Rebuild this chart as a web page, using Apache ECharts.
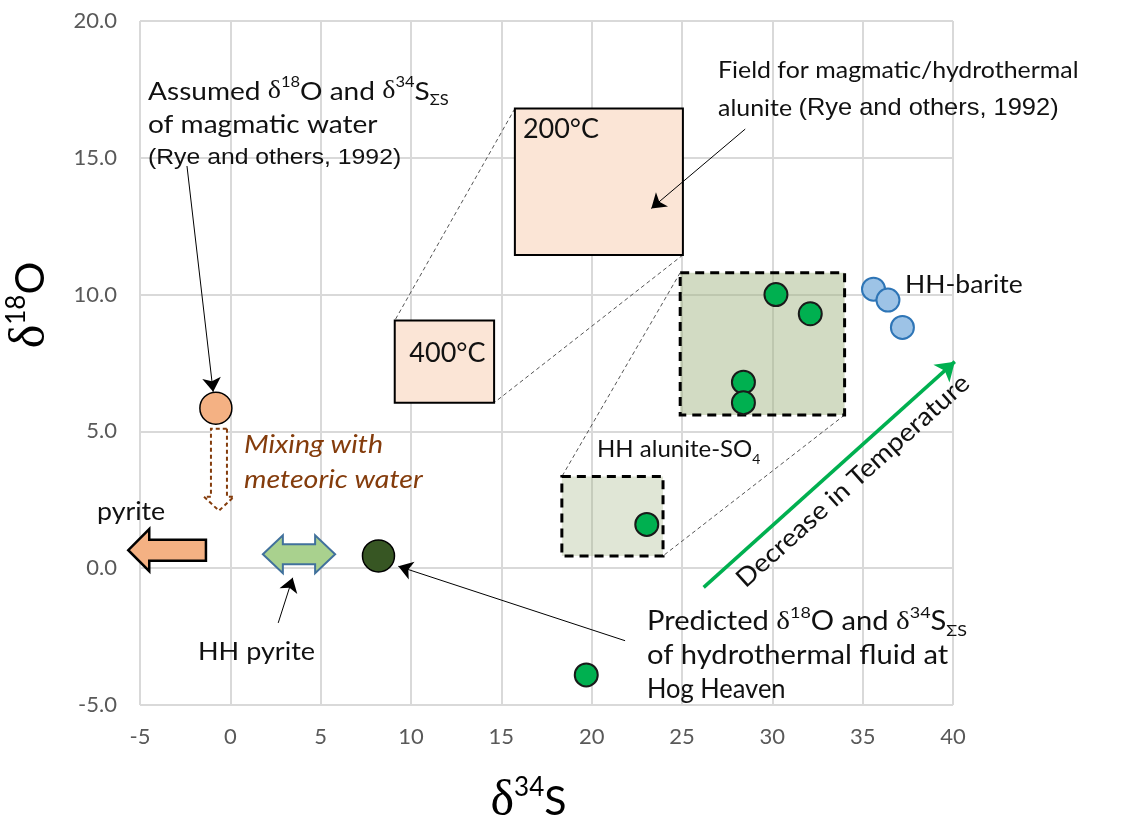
<!DOCTYPE html>
<html>
<head>
<meta charset="utf-8">
<title>δ18O vs δ34S – Hog Heaven</title>
<script src="https://cdn.jsdelivr.net/npm/echarts@6/dist/echarts.min.js"></script>
<style>
  html, body { margin: 0; padding: 0; background: #ffffff; }
  #chart { width: 1136px; height: 817px; }
</style>
</head>
<body>
<div id="chart"></div>
<script>
// ---- Axis ranges (per mil) ----
const xMin = -5, xMax = 40, xStep = 5;
const yMin = -5, yMax = 20, yStep = 5;

// ---- Isotope data [δ34S, δ18O] ----
const magmaticWater = [[-0.8, 5.85]];
const hogHeavenFluid = [[8.2, 0.45]];
const aluniteSO4 = [[30.2, 10.0], [32.1, 9.3], [28.4, 6.8], [28.4, 6.05], [23.05, 1.6], [19.7, -3.9]];
const barite = [[35.6, 10.2], [36.4, 9.8], [37.2, 8.8]];

// ---- Fields [x1, y1, x2, y2] ----
const tempFieldLabels = ['200°C', '400°C'];
const field200C = [15.75, 11.45, 25.05, 16.8];
const field400C = [9.1, 6.05, 14.6, 9.05];
const aluniteFieldUpper = [24.9, 5.6, 34.0, 10.8];
const aluniteFieldLower = [18.35, 0.45, 23.95, 3.35];

// ---- Block arrows [from, to] ----
const pyriteArrow = [[-1.35, 0.66], [-5.65, 0.66]];
const hhPyriteRange = [[1.8, 0.51], [5.8, 0.51]];
const mixingArrow = [[-0.63, 5.1], [-0.63, 2.1]];

// ---- Leader arrows [from, to] ----
const assumedLeader = [[-2.4, 14.7], [-0.95, 6.45]];
const hhPyriteLeader = [[2.65, -2.0], [3.45, -0.35]];
const predictedLeader = [[21.85, -2.65], [9.3, 0.07]];
const fieldLeader = [[28.5, 16.05], [23.3, 13.15]];
const temperatureTrend = [[26.2, -0.7], [40.1, 7.55]];

const SANS = 'Lato';
const ARIAL = 'Liberation Sans';
const SERIF = 'Liberation Serif';

function rectFromValues(api) {
  const a = api.coord([api.value(0), api.value(1)]);
  const b = api.coord([api.value(2), api.value(3)]);
  return {
    x: Math.min(a[0], b[0]), y: Math.min(a[1], b[1]),
    width: Math.abs(b[0] - a[0]), height: Math.abs(b[1] - a[1])
  };
}

function blockArrowPoints(p1, p2, bodyHalf, headHalf, headLen, doubleHead) {
  const dx = p2[0] - p1[0], dy = p2[1] - p1[1];
  const L = Math.hypot(dx, dy);
  const ux = dx / L, uy = dy / L, nx = -uy, ny = ux;
  const pt = (s, t) => [p1[0] + ux * s + nx * t, p1[1] + uy * s + ny * t];
  if (!doubleHead) {
    return [pt(0, -bodyHalf), pt(L - headLen, -bodyHalf), pt(L - headLen, -headHalf), pt(L, 0),
            pt(L - headLen, headHalf), pt(L - headLen, bodyHalf), pt(0, bodyHalf)];
  }
  return [pt(0, 0), pt(headLen, -headHalf), pt(headLen, -bodyHalf), pt(L - headLen, -bodyHalf),
          pt(L - headLen, -headHalf), pt(L, 0), pt(L - headLen, headHalf), pt(L - headLen, bodyHalf),
          pt(headLen, bodyHalf), pt(headLen, headHalf)];
}

function blockArrowSeries(name, seg, geom, style) {
  return {
    type: 'custom', name: name, coordinateSystem: 'cartesian2d', clip: false, silent: true, z: 4,
    data: [[seg[0][0], seg[0][1], seg[1][0], seg[1][1]]],
    encode: { x: [0, 2], y: [1, 3] },
    renderItem: (params, api) => {
      const p1 = api.coord([api.value(0), api.value(1)]);
      const p2 = api.coord([api.value(2), api.value(3)]);
      return {
        type: 'polygon',
        shape: { points: blockArrowPoints(p1, p2, geom.body, geom.head, geom.len, geom.double) },
        style: style
      };
    }
  };
}

function leaderSeries(name, seg, color, width, size) {
  return {
    type: 'lines', name: name, coordinateSystem: 'cartesian2d', clip: false, silent: true, z: 5,
    symbol: ['none', 'arrow'], symbolSize: size,
    lineStyle: { color: color, width: width, opacity: 1 },
    data: [{ coords: seg }]
  };
}

// rich text styles for annotation text (zrender style names)
function richBase(size, lh, color, italic, arialSize) {
  const fs = italic ? 'italic' : 'normal';
  return {
    t: { fontFamily: SANS, fontSize: size, lineHeight: lh, fill: color, fontStyle: fs, verticalAlign: 'middle' },
    d: { fontFamily: SERIF, fontSize: size, lineHeight: lh, fill: color, verticalAlign: 'middle' },
    sup: { fontFamily: SANS, fontSize: Math.round(size * 0.6), lineHeight: Math.round(lh * 0.6), fill: color, verticalAlign: 'top' },
    sub: { fontFamily: SANS, fontSize: Math.round(size * 0.6), lineHeight: Math.round(lh * 0.5), fill: color, verticalAlign: 'bottom' },
    a: { fontFamily: ARIAL, fontSize: arialSize || size - 3, lineHeight: lh, fill: color, verticalAlign: 'middle' }
  };
}

function note(x, y, text, size, lh, opts) {
  opts = opts || {};
  return {
    type: 'text', x: x, y: y, z: 100, silent: true,
    rotation: opts.rotation || 0,
    scaleX: opts.sx || 1,
    style: {
      text: text,
      rich: richBase(size, lh, opts.color || '#111111', opts.italic, opts.arial),
      align: opts.align || 'left',
      verticalAlign: opts.vAlign || 'top'
    }
  };
}

const axisNameRich = {
  d: { fontFamily: SERIF, fontSize: 50, color: '#000', lineHeight: 54 },
  s: { fontFamily: SANS, fontSize: 26, color: '#000', lineHeight: 30, verticalAlign: 'top' },
  m: { fontFamily: SANS, fontSize: 41, color: '#000', lineHeight: 54 }
};

const chart = echarts.init(document.getElementById('chart'));

const option = {
  animation: false,
  backgroundColor: '#ffffff',
  grid: { left: 140, right: 183, top: 21, bottom: 112, containLabel: false, outerBoundsMode: 'none' },
  xAxis: {
    type: 'value', min: xMin, max: xMax, interval: xStep,
    axisLine: { show: true, lineStyle: { color: '#d9d9d9', width: 2 } },
    axisTick: { show: false },
    splitLine: { show: true, lineStyle: { color: '#d9d9d9', width: 2 } },
    axisLabel: { color: '#595959', fontFamily: SANS, fontSize: 22, margin: 21 },
    name: '{d|δ}{s|34}{m|S}',
    nameLocation: 'middle', nameGap: 70,
    nameTextStyle: { padding: [0, 36, 0, 0], rich: axisNameRich }
  },
  yAxis: {
    type: 'value', min: yMin, max: yMax, interval: yStep,
    axisLine: { show: true, lineStyle: { color: '#d9d9d9', width: 2 } },
    axisTick: { show: false },
    splitLine: { show: true, lineStyle: { color: '#d9d9d9', width: 2 } },
    axisLabel: { color: '#595959', fontFamily: SANS, fontSize: 22, margin: 23, formatter: v => v.toFixed(1) },
    name: '{d|δ}{s|18}{m|O}',
    nameLocation: 'middle', nameGap: 82,
    nameTextStyle: { padding: [0, 0, 0, 116], rich: axisNameRich }
  },
  series: [
    // temperature boxes of magmatic-hydrothermal alunite
    {
      type: 'custom', name: 'Alunite field', coordinateSystem: 'cartesian2d', silent: true, z: 2,
      data: [field200C, field400C], encode: { x: [0, 2], y: [1, 3] },
      renderItem: (params, api) => {
        const r = rectFromValues(api);
        const centered = params.dataIndex === 1;
        return {
          type: 'group',
          children: [
            { type: 'rect', shape: r, style: { fill: '#fbe5d6', stroke: '#000000', lineWidth: 2 } },
            {
              type: 'text',
              x: centered ? r.x + r.width / 2 + 3 : r.x + 8,
              y: centered ? r.y + r.height / 2 - 8 : r.y + 21,
              style: {
                text: tempFieldLabels[params.dataIndex], fontFamily: SANS, fontSize: 27, fill: '#111111',
                align: centered ? 'center' : 'left', verticalAlign: 'middle'
              }
            }
          ]
        };
      }
    },
    // dotted connectors between the 200°C and 400°C boxes and between the HH fields
    {
      type: 'lines', name: 'Field connectors', coordinateSystem: 'cartesian2d', silent: true, z: 1,
      lineStyle: { color: '#555555', width: 1, type: [4, 3], opacity: 1 },
      data: [
        { coords: [[field200C[0], field200C[3]], [field400C[0], field400C[3]]] },
        { coords: [[field200C[2], field200C[1]], [field400C[2], field400C[1]]] },
        { coords: [[aluniteFieldUpper[0], aluniteFieldUpper[3]], [aluniteFieldLower[0], aluniteFieldLower[3]]] },
        { coords: [[aluniteFieldUpper[2], aluniteFieldUpper[1]], [aluniteFieldLower[2], aluniteFieldLower[1]]] }
      ]
    },
    // HH alunite-SO4 fields (dashed)
    {
      type: 'custom', name: 'HH alunite field', coordinateSystem: 'cartesian2d', silent: true, z: 2,
      data: [aluniteFieldUpper, aluniteFieldLower], encode: { x: [0, 2], y: [1, 3] },
      renderItem: (params, api) => ({
        type: 'rect', shape: rectFromValues(api),
        style: {
          fill: params.dataIndex === 0 ? 'rgba(160,180,130,0.48)' : 'rgba(160,180,130,0.33)',
          stroke: '#000000', lineWidth: 3, lineDash: [9, 6]
        }
      })
    },
    blockArrowSeries('pyrite', pyriteArrow, { body: 10.5, head: 21, len: 21 },
      { fill: '#f4b183', stroke: '#000000', lineWidth: 2.5 }),
    blockArrowSeries('HH pyrite', hhPyriteRange, { body: 10, head: 19, len: 20, double: true },
      { fill: '#a9d18e', stroke: '#41719c', lineWidth: 2 }),
    blockArrowSeries('Mixing with meteoric water', mixingArrow, { body: 8, head: 15, len: 14 },
      { fill: '#ffffff', stroke: '#843c0c', lineWidth: 2, lineDash: [4, 3] }),
    leaderSeries('assumed', assumedLeader, '#000000', 1, 14),
    leaderSeries('hh pyrite', hhPyriteLeader, '#000000', 1, 14),
    leaderSeries('predicted', predictedLeader, '#000000', 1, 14),
    leaderSeries('field', fieldLeader, '#000000', 1, 14),
    leaderSeries('temperature', temperatureTrend, '#00b050', 3.5, 18),
    {
      type: 'scatter', name: 'Magmatic water', data: magmaticWater, symbolSize: 32, z: 10, silent: true,
      itemStyle: { color: '#f4b183', borderColor: '#000000', borderWidth: 1.5, opacity: 1 }
    },
    {
      type: 'scatter', name: 'Hog Heaven fluid', data: hogHeavenFluid, symbolSize: 32, z: 10, silent: true,
      itemStyle: { color: '#375623', borderColor: '#000000', borderWidth: 1.5, opacity: 1 }
    },
    {
      type: 'scatter', name: 'HH alunite-SO4', data: aluniteSO4, symbolSize: 23, z: 10, silent: true,
      itemStyle: { color: '#00b050', borderColor: '#1a1a1a', borderWidth: 2, opacity: 1 }
    },
    {
      type: 'scatter', name: 'HH-barite', data: barite, symbolSize: 23, z: 10, silent: true,
      itemStyle: { color: '#9dc3e6', borderColor: '#2e75b6', borderWidth: 2, opacity: 1 }
    }
  ],
  graphic: [
    note(148, 75, '{t|Assumed }{d|δ}{sup|18}{t|O and }{d|δ}{sup|34}{t|S}{sub|ΣS}\n{t|of magmatic water}\n{a|(Rye and others, 1992)}', 25.5, 33, { sx: 1.1, arial: 22.5 }),
    note(718, 51, '{t|Field for magmatic/hydrothermal}\n{t|alunite }{a|(Rye and others, 1992)}', 23.5, 38, { sx: 1.06, arial: 24 }),
    note(647, 605, '{t|Predicted }{d|δ}{sup|18}{t|O and }{d|δ}{sup|34}{t|S}{sub|ΣS}\n{t|of hydrothermal fluid at}', 26, 34, { sx: 1.12 }),
    note(647, 673, '{t|Hog Heaven}', 26, 34, { sx: 0.98 }),
    note(905, 268, '{t|HH-barite}', 25, 34, { sx: 1.06 }),
    note(597, 432, '{t|HH alunite-SO}{sub|4}', 24, 34),
    note(198, 635, '{t|HH pyrite}', 25, 34, { sx: 1.08 }),
    note(97, 495, '{t|pyrite}', 25, 34, { sx: 1.07 }),
    note(244, 427, '{t|Mixing with}\n{t|meteoric water}', 26, 35, { color: '#843c0c', italic: true, sx: 1.1 }),
    note(853, 481, '{t|Decrease in Temperature}', 25.5, 30, { rotation: 42 * Math.PI / 180, align: 'center', vAlign: 'middle', sx: 1.09 })
  ]
};

chart.setOption(option);
</script>
</body>
</html>
